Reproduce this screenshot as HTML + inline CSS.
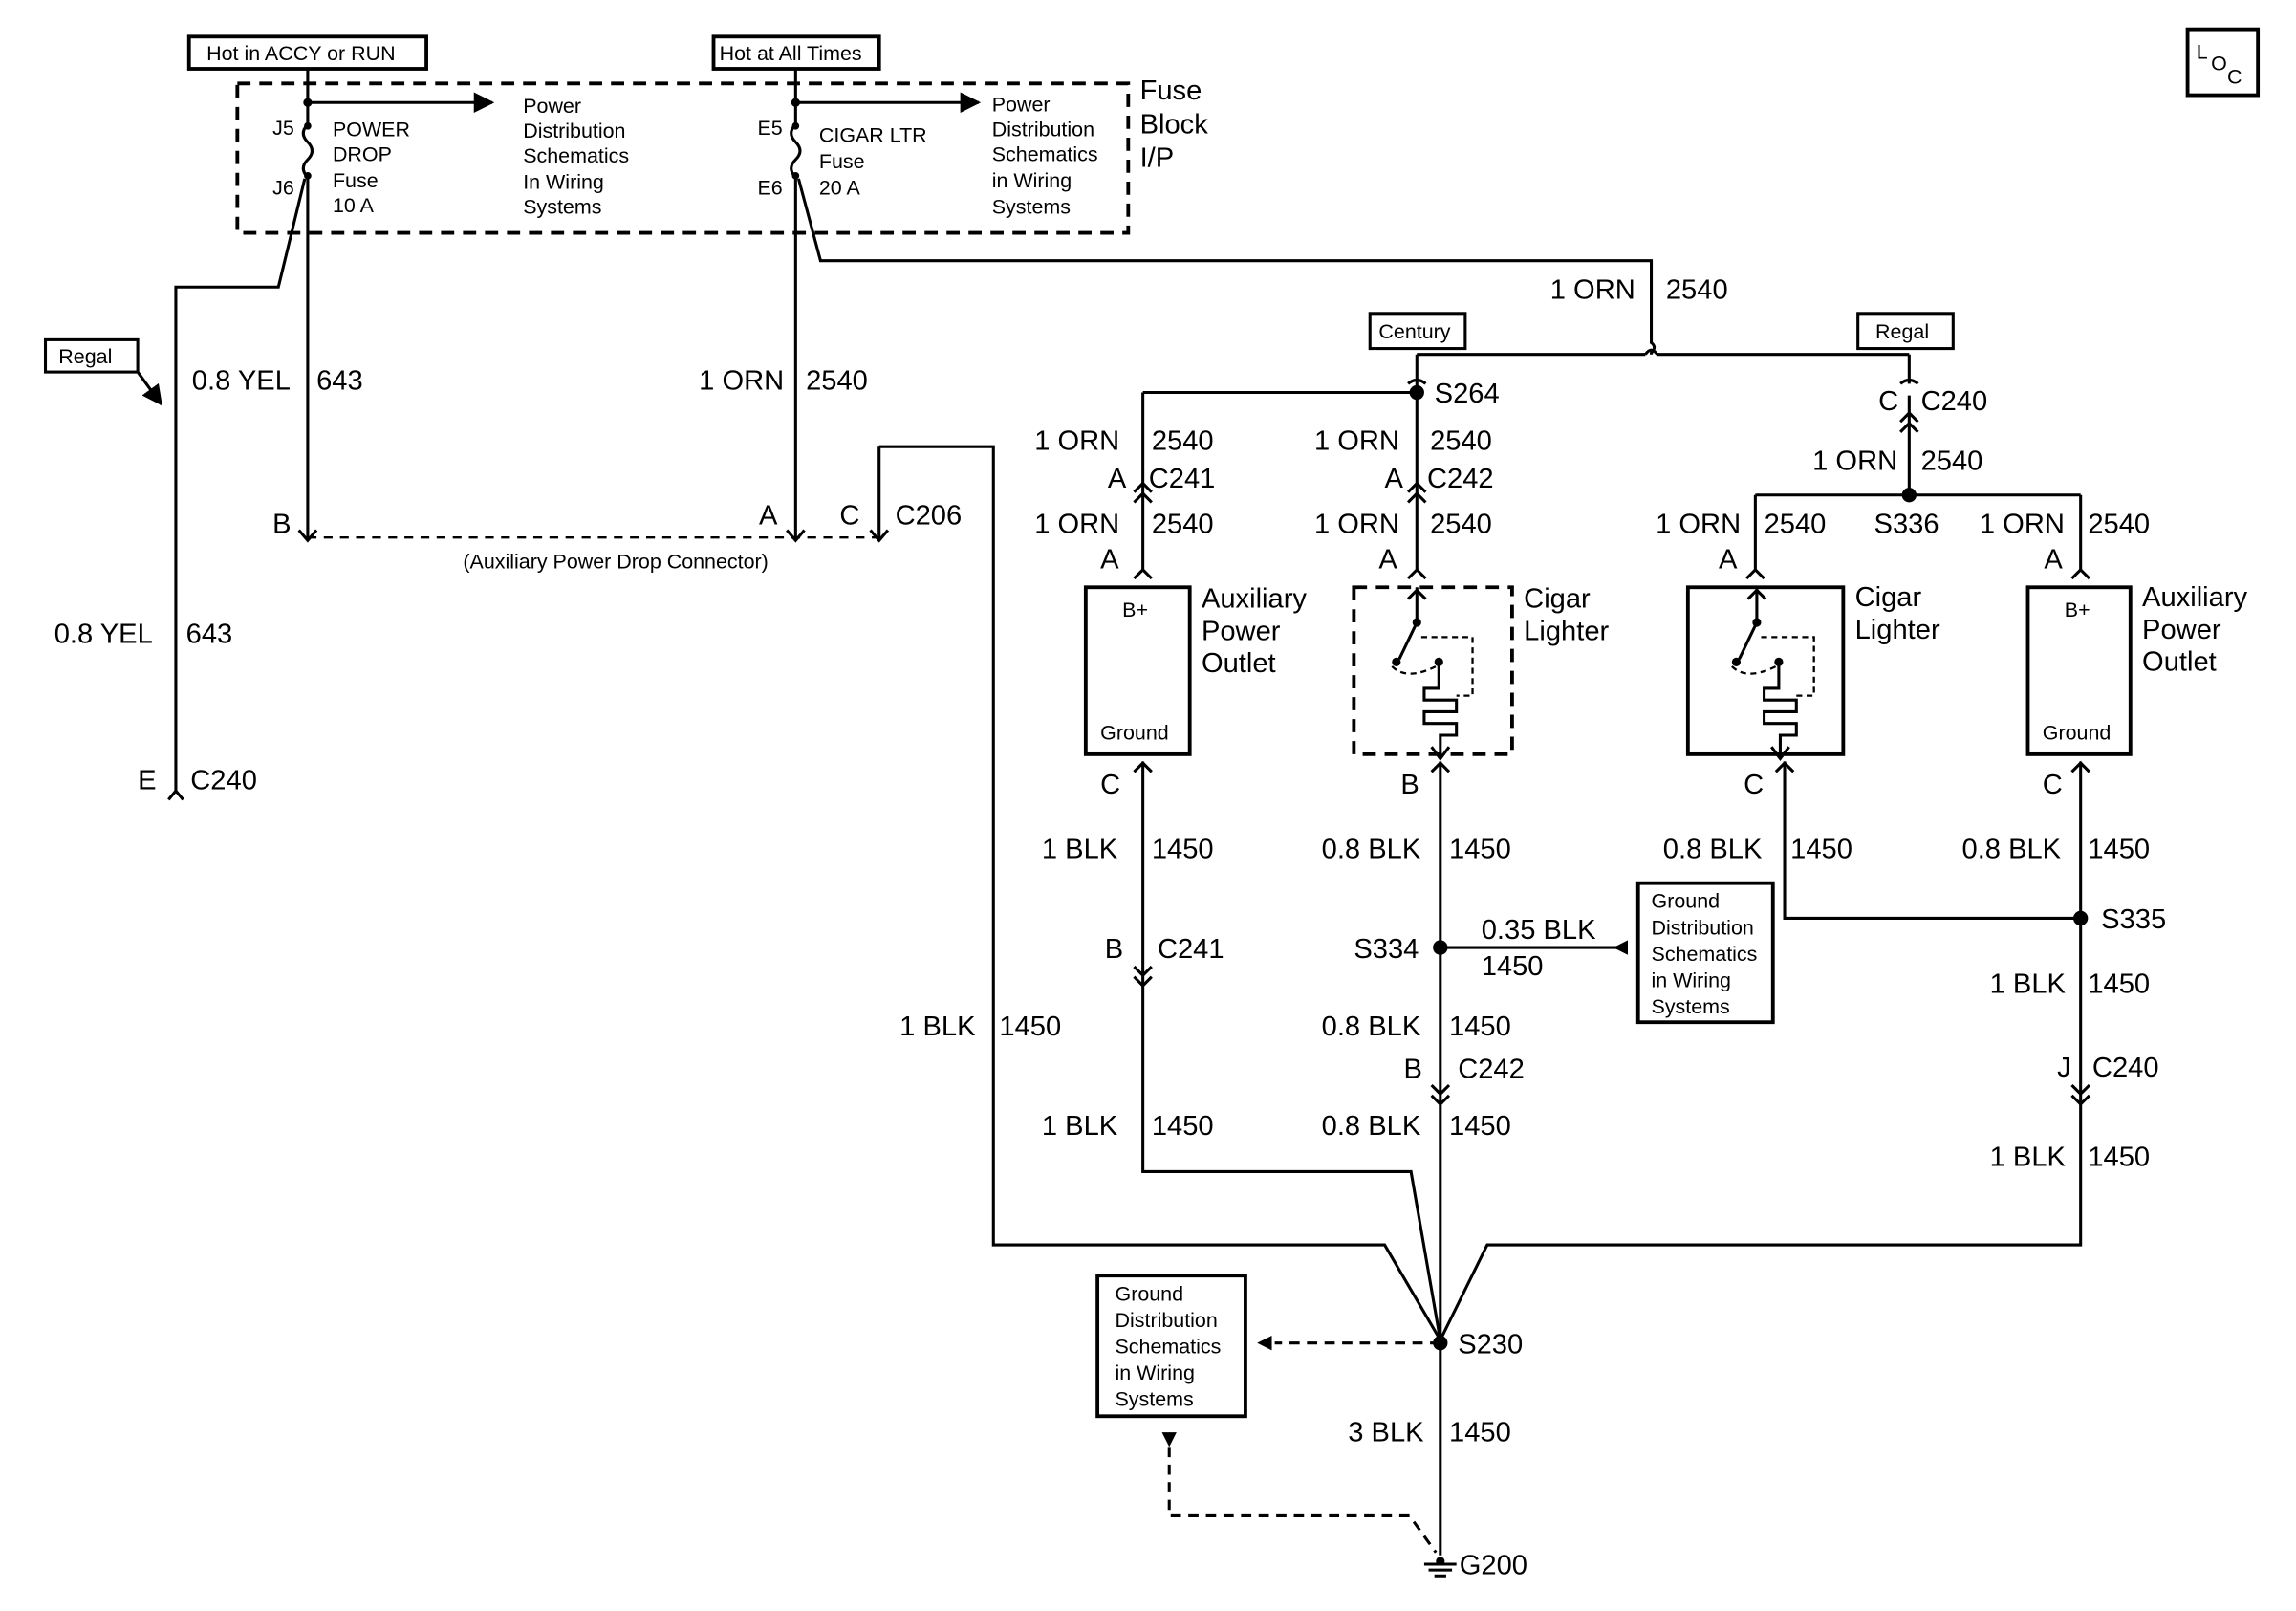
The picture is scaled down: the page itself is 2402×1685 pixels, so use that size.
<!DOCTYPE html>
<html><head><meta charset="utf-8"><style>
html,body{margin:0;padding:0;background:#fff}
svg{display:block}
text{font-family:"Liberation Sans",Arial,sans-serif;fill:#000}
.L{font-size:19px}
.S{font-size:14px}
.M{font-size:15px}
</style></head><body>
<svg width="2402" height="1685" viewBox="0 0 1567 1100" preserveAspectRatio="none" xmlns="http://www.w3.org/2000/svg">
<defs>
<marker id="ah" viewBox="0 0 10 10" refX="9" refY="5" markerWidth="7" markerHeight="7" orient="auto"><path d="M0,0 L10,5 L0,10 z"/></marker>
</defs>
<g fill="none" stroke="#000" stroke-width="2">
<rect x="129" y="25" width="162" height="22" stroke-width="2.5"/>
<rect x="487" y="25" width="113" height="22" stroke-width="2.5"/>
<rect x="1493" y="20" width="48" height="45" stroke-width="2.5"/>
<rect x="162" y="57" width="608" height="102" stroke-dasharray="9,6" stroke-width="2.5"/>
<path d="M210,47 V85 M210,85 q-6,6 0,12 q6,6 0,12 q-6,6 0,12 M210,121 V368"/>
<path d="M210,70 H336" marker-end="url(#ah)"/>
<path d="M208,122 L190,196 H120 V540"/>
<path d="M543,47 V85 q-6,6 0,12 q6,6 0,12 q-6,6 0,12 V368"/>
<path d="M543,70 H668" marker-end="url(#ah)"/>
<path d="M545,122 L560,178 H1127 V234 q4,3 0,7 V242"/>
<path d="M210,367 H598" stroke-dasharray="6,5" stroke-width="1.5"/>
<path d="M600,305 V368 M600,305 H678 V850 H945 L983,915"/>
<path d="M204,362 l6,7 l6,-7 M537,362 l6,7 l6,-7 M594,362 l6,7 l6,-7"/>
<rect x="31" y="232" width="63" height="22"/>
<path d="M94,254 L110,276" marker-end="url(#ah)"/>
<path d="M115,546 l5,-6 l5,6"/>
<path d="M967,242 H1123 M1131,242 H1303"/>
<path d="M1123,242 q4,-6 8,0"/>
<rect x="935" y="214" width="65" height="24"/>
<rect x="1268" y="214" width="65" height="24"/>
<path d="M967,242 V262 M961,262 q6,-5 12,0 M967,262 V390"/>
<path d="M780,268 H967 M780,268 V390"/>
<path d="M774,343 l6,-6 l6,6 M774,336 l6,-6 l6,6 M961,343 l6,-6 l6,6 M961,336 l6,-6 l6,6"/>
<path d="M774,395 l6,-6 l6,6 M961,395 l6,-6 l6,6 M1192,395 l6,-6 l6,6 M1414,395 l6,-6 l6,6"/>
<path d="M1303,242 V262 M1297,262 q6,-5 12,0 M1303,270 V338 M1297,288 l6,-6 l6,6 M1297,295 l6,-6 l6,6"/>
<path d="M1198,338 H1420 M1198,338 V390 M1420,338 V390"/>
<rect x="741" y="401" width="71" height="114" stroke-width="2.5"/>
<rect x="1384" y="401" width="70" height="114" stroke-width="2.5"/>
<rect x="924" y="401" width="108" height="114" stroke-dasharray="9,6" stroke-width="2.5"/>
<rect x="1152" y="401" width="106" height="114" stroke-width="2.5"/>
<path d="M967,401 V425 L955,450 M961,409 l6,-6 l6,6"/>
<path d="M950,455 q10,10 30,0 M970,435 H1005 V475 H994" stroke-dasharray="4,3" stroke-width="1.5"/>
<path d="M982,452 V470 H972 V478 H994 V486 H972 V494 H994 V502 H983 V518 M977,510 l6,8 l6,-8"/>
<path d="M1199,401 V425 L1187,450 M1193,409 l6,-6 l6,6"/>
<path d="M1182,455 q10,10 30,0 M1202,435 H1238 V475 H1226" stroke-dasharray="4,3" stroke-width="1.5"/>
<path d="M1214,452 V470 H1204 V478 H1226 V486 H1204 V494 H1226 V502 H1215 V518 M1209,510 l6,8 l6,-8"/>
<path d="M780,520 V800 H963 L983,915 M774,527 l6,-6 l6,6"/>
<path d="M774,660 l6,6 l6,-6 M774,667 l6,6 l6,-6"/>
<path d="M983,520 V1062 M977,527 l6,-6 l6,6 M977,741 l6,6 l6,-6 M977,748 l6,6 l6,-6"/>
<path d="M1218,520 V627 H1420 M1212,527 l6,-6 l6,6"/>
<path d="M1420,520 V850 H1015 L983,915 M1414,527 l6,-6 l6,6 M1414,741 l6,6 l6,-6 M1414,748 l6,6 l6,-6"/>
<path d="M983,647 H1110"/>
<rect x="1118" y="603" width="92" height="95" stroke-width="2.5"/>
<rect x="749" y="871" width="101" height="96" stroke-width="2.5"/>
<path d="M983,917 H870" stroke-dasharray="7,5"/>
<path d="M798,988 V1035 H962 L980,1060" stroke-dasharray="7,5"/>
<path d="M972,1068 H994 M975,1072 H991 M979,1076 H987"/>
</g>
<g fill="#000">
<path d="M1101,647 l10,-5 v10 z"/>
<path d="M858,917 l10,-5 v10 z"/>
<path d="M793,978 h10 l-5,10 z"/>
<circle cx="210" cy="70" r="3"/><circle cx="543" cy="70" r="3"/>
<circle cx="210" cy="86" r="2.5"/><circle cx="210" cy="120" r="2.5"/>
<circle cx="543" cy="86" r="2.5"/><circle cx="543" cy="120" r="2.5"/>
<circle cx="967" cy="268" r="5"/><circle cx="1303" cy="338" r="5"/>
<circle cx="983" cy="647" r="5"/><circle cx="1420" cy="627" r="5"/><circle cx="983" cy="917" r="5"/>
<circle cx="967" cy="425" r="3"/><circle cx="953" cy="452" r="3"/><circle cx="982" cy="452" r="3"/>
<circle cx="1199" cy="425" r="3"/><circle cx="1185" cy="452" r="3"/><circle cx="1214" cy="452" r="3"/>
<circle cx="983" cy="1066" r="3"/>
</g>
<g class="S">
<text x="141" y="41">Hot in ACCY or RUN</text>
<text x="491" y="41">Hot at All Times</text>
<text x="40" y="248">Regal</text>
<text x="941" y="231">Century</text>
<text x="1280" y="231">Regal</text>
<text x="186" y="92">J5</text><text x="186" y="133">J6</text>
<text x="517" y="92">E5</text><text x="517" y="133">E6</text>
<text x="227" y="93">POWER</text><text x="227" y="110">DROP</text><text x="227" y="128">Fuse</text><text x="227" y="145">10 A</text>
<text x="357" y="77">Power</text><text x="357" y="94">Distribution</text><text x="357" y="111">Schematics</text><text x="357" y="129">In Wiring</text><text x="357" y="146">Systems</text>
<text x="559" y="97">CIGAR LTR</text><text x="559" y="115">Fuse</text><text x="559" y="133">20 A</text>
<text x="677" y="76">Power</text><text x="677" y="93">Distribution</text><text x="677" y="110">Schematics</text><text x="677" y="128">in Wiring</text><text x="677" y="146">Systems</text>
<text x="316" y="388">(Auxiliary Power Drop Connector)</text>
<text x="766" y="421">B+</text><text x="751" y="505">Ground</text>
<text x="1409" y="421">B+</text><text x="1394" y="505">Ground</text>
<text x="1127" y="620">Ground</text><text x="1127" y="638">Distribution</text><text x="1127" y="656">Schematics</text><text x="1127" y="674">in Wiring</text><text x="1127" y="692">Systems</text>
<text x="761" y="888">Ground</text><text x="761" y="906">Distribution</text><text x="761" y="924">Schematics</text><text x="761" y="942">in Wiring</text><text x="761" y="960">Systems</text>
<text x="1499" y="40">L</text><text x="1509" y="48">O</text><text x="1520" y="57">C</text>
</g>
<g class="L">
<text x="778" y="68">Fuse</text><text x="778" y="91">Block</text><text x="778" y="114">I/P</text>
<text x="1058" y="204">1 ORN</text><text x="1137" y="204">2540</text>
<text x="131" y="266">0.8 YEL</text><text x="216" y="266">643</text>
<text x="477" y="266">1 ORN</text><text x="550" y="266">2540</text>
<text x="37" y="439">0.8 YEL</text><text x="127" y="439">643</text>
<text x="94" y="539">E</text><text x="130" y="539">C240</text>
<text x="186" y="364">B</text><text x="518" y="358">A</text><text x="573" y="358">C</text><text x="611" y="358">C206</text>
<text x="979" y="275">S264</text>
<text x="1282" y="280">C</text><text x="1311" y="280">C240</text>
<text x="706" y="307">1 ORN</text><text x="786" y="307">2540</text>
<text x="897" y="307">1 ORN</text><text x="976" y="307">2540</text>
<text x="756" y="333">A</text><text x="784" y="333">C241</text>
<text x="945" y="333">A</text><text x="974" y="333">C242</text>
<text x="1237" y="321">1 ORN</text><text x="1311" y="321">2540</text>
<text x="706" y="364">1 ORN</text><text x="786" y="364">2540</text>
<text x="897" y="364">1 ORN</text><text x="976" y="364">2540</text>
<text x="1130" y="364">1 ORN</text><text x="1204" y="364">2540</text><text x="1279" y="364">S336</text>
<text x="1351" y="364">1 ORN</text><text x="1425" y="364">2540</text>
<text x="751" y="388">A</text><text x="941" y="388">A</text><text x="1173" y="388">A</text><text x="1395" y="388">A</text>
<text x="820" y="415">Auxiliary</text><text x="820" y="437">Power</text><text x="820" y="459">Outlet</text>
<text x="1040" y="415">Cigar</text><text x="1040" y="437">Lighter</text>
<text x="1266" y="414">Cigar</text><text x="1266" y="436">Lighter</text>
<text x="1462" y="414">Auxiliary</text><text x="1462" y="436">Power</text><text x="1462" y="458">Outlet</text>
<text x="751" y="542">C</text><text x="956" y="542">B</text><text x="1190" y="542">C</text><text x="1394" y="542">C</text>
<text x="711" y="586">1 BLK</text><text x="786" y="586">1450</text>
<text x="902" y="586">0.8 BLK</text><text x="989" y="586">1450</text>
<text x="1135" y="586">0.8 BLK</text><text x="1222" y="586">1450</text>
<text x="1339" y="586">0.8 BLK</text><text x="1425" y="586">1450</text>
<text x="1434" y="634">S335</text>
<text x="1011" y="641">0.35 BLK</text><text x="1011" y="666">1450</text>
<text x="924" y="654">S334</text>
<text x="754" y="654">B</text><text x="790" y="654">C241</text>
<text x="614" y="707">1 BLK</text><text x="682" y="707">1450</text>
<text x="1358" y="678">1 BLK</text><text x="1425" y="678">1450</text>
<text x="902" y="707">0.8 BLK</text><text x="989" y="707">1450</text>
<text x="958" y="736">B</text><text x="995" y="736">C242</text>
<text x="1404" y="735">J</text><text x="1428" y="735">C240</text>
<text x="711" y="775">1 BLK</text><text x="786" y="775">1450</text>
<text x="902" y="775">0.8 BLK</text><text x="989" y="775">1450</text>
<text x="1358" y="796">1 BLK</text><text x="1425" y="796">1450</text>
<text x="995" y="924">S230</text>
<text x="920" y="984">3 BLK</text><text x="989" y="984">1450</text>
<text x="996" y="1075">G200</text>
</g>
</svg>
</body></html>
